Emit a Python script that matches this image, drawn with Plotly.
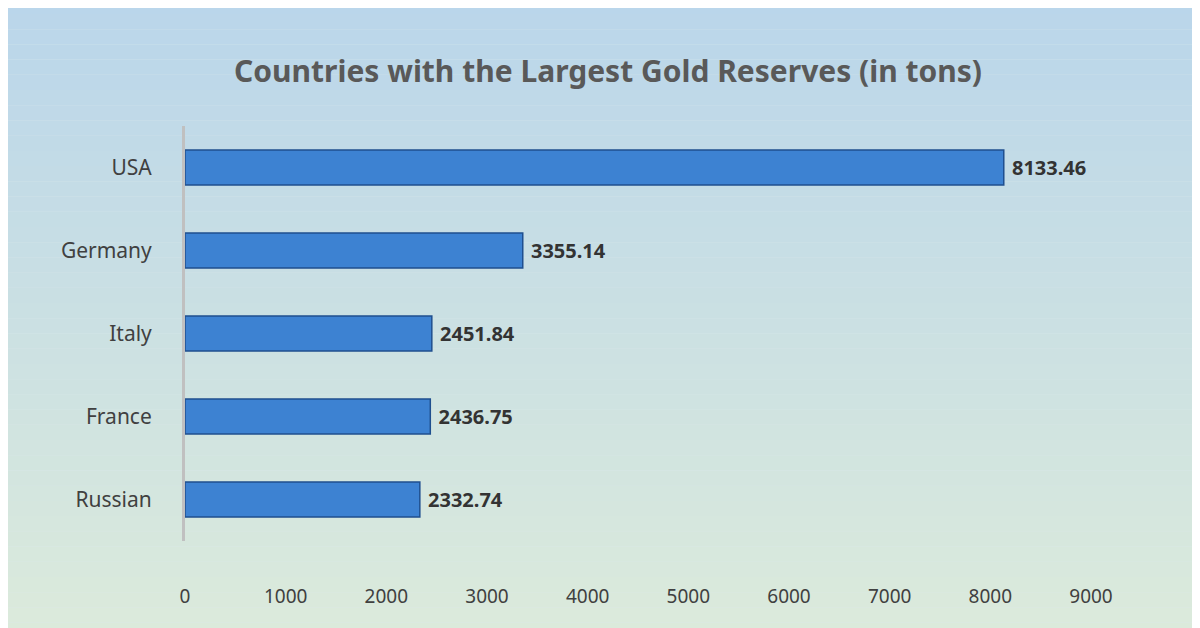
import plotly.graph_objects as go

countries = ["Russian", "France", "Italy", "Germany", "USA"]
reserves = [2332.74, 2436.75, 2451.84, 3355.14, 8133.46]
labels = ["2332.74", "2436.75", "2451.84", "3355.14", "8133.46"]
xticks = [0, 1000, 2000, 3000, 4000, 5000, 6000, 7000, 8000, 9000]

fig = go.Figure()
fig.add_trace(go.Bar(
    y=countries, x=reserves, orientation="h", width=0.42,
    marker=dict(color="#3d82d2", line=dict(color="#1f4f8f", width=1.5)),
    text=["<b> " + s + "</b>" for s in labels], textposition="outside", cliponaxis=False,
    textfont=dict(family="Noto Sans", size=20, color="#333333"),
))

n = 60
top = (180, 210, 238)
bot = (228, 240, 216)
shapes = []
for i in range(n):
    t = i / (n - 1)
    c = tuple(int(top[k] + (bot[k] - top[k]) * t) for k in range(3))
    shapes.append(dict(type="rect", xref="paper", yref="paper", layer="below",
                       x0=-0.5, x1=1.5, y0=1.6 - (i + 1) * 2.2 / n, y1=1.6 - i * 2.2 / n,
                       fillcolor="rgb(%d,%d,%d)" % c, line=dict(width=0)))

fig.update_layout(
    width=1200, height=628, shapes=shapes,
    paper_bgcolor="#dbe8ec", plot_bgcolor="rgba(0,0,0,0)",
    margin=dict(l=177, r=117, t=118, b=95),
    title=dict(text="<b>Countries with the Largest Gold Reserves (in tons)</b>",
               x=0.5, xanchor="center", y=0.915,
               font=dict(family="Noto Sans", size=30, color="#595959")),
    xaxis=dict(range=[0, 9000], tickvals=xticks, showgrid=False, zeroline=False,
               ticklabelstandoff=42,
               tickfont=dict(family="Noto Sans", size=19, color="#404040")),
    yaxis=dict(showline=True, linecolor="#c0c0c0", linewidth=3, ticks="",
               ticklabelstandoff=26,
               tickfont=dict(family="Noto Sans", size=21, color="#404040")),
    showlegend=False,
)
fig.write_html("out.html")
